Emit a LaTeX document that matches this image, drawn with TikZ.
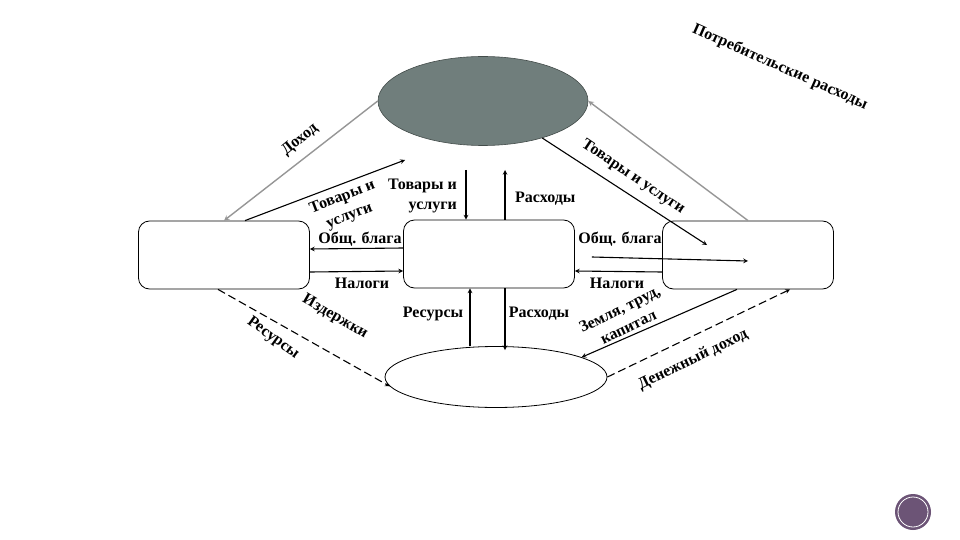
\documentclass[tikz,border=0pt]{standalone}
\usepackage{fontspec}
\setmainfont{Liberation Serif}[BoldFont={Liberation Serif Bold}]
\usetikzlibrary{shapes.geometric,positioning,calc}
\definecolor{ovalgray}{RGB}{112,126,124}
\definecolor{grayline}{RGB}{150,150,150}
\definecolor{badge}{RGB}{108,84,118}
\tikzset{
  sector/.style={draw,line width=0.8pt,rounded corners=11pt,minimum width=171pt,minimum height=68pt},
  lbl/.style={font=\rmfamily\bfseries\fontsize{16}{20}\selectfont,inner sep=1pt},
  flow/.style={->,>=stealth,line width=1.1pt},
  gflow/.style={->,>=stealth,grayline,line width=1.4pt},
  dflow/.style={->,>=stealth,line width=1.1pt,dash pattern=on 8pt off 4pt},
}
\begin{document}
\begin{tikzpicture}[x=1pt,y=-1pt]
  \useasboundingbox (0,0) rectangle (960,540);
  % сектора
  \node[ellipse,draw=ovalgray!60!black,line width=0.6pt,fill=ovalgray,minimum width=210pt,minimum height=89pt] (toval) at (483,101) {};
  \node[ellipse,draw,line width=0.8pt,minimum width=222pt,minimum height=61pt] (boval) at (496,377) {};
  \node[sector] (lsec) at (224,255) {};
  \node[sector] (gov) at (489,254) {};
  \node[sector] (rsec) at (748,255) {};
  \coordinate (gsup) at (405,160);
  \coordinate (gsin) at (466,170);
  \coordinate (spend) at (505,170);

  % серые стрелки
  \draw[gflow] (toval.west) -- (lsec.north);
  \draw[gflow] (rsec.north) -- (toval.east);
  % верх
  \draw[flow] ([xshift=21pt]lsec.north) -- (gsup);
  \draw[flow] (toval.-32) -- ([xshift=-41pt,yshift=10pt]rsec.center);
  \draw[flow] (gsin) -- (gsin |- gov.north);
  \draw[flow] (spend |- gov.north) -- (spend);
  % середина
  \draw[flow] ([yshift=6pt]gov.west) -- ([yshift=6pt]lsec.east);
  \draw[flow] ([yshift=-17pt]lsec.east) -- ([yshift=-17pt]gov.west);
  \draw[flow] ([xshift=17pt,yshift=-3pt]gov.east) -- ([yshift=-6pt]rsec.center);
  \draw[flow] ([yshift=-17pt]rsec.west) -- ([yshift=-17pt]gov.east);
  % низ
  \draw[flow] ($(boval.north)+(-26,0)$) -- ($(gov.south)+(-19,0)$);
  \draw[flow] ($(gov.south)+(16,0)$) -- ($(boval.north)+(9,4)$);
  \draw[flow] ($(rsec.south)+(-11,0)$) -- (boval.13);
  \draw[dflow] (boval.east) -- ($(rsec.south)+(42,0)$);
  \draw[dflow] ($(lsec.south)+(-6,0)$) -- (boval.185);

  % подписи
  \node[lbl,rotate=39] (tDohod) at (300,140) {Доход};
  \node[lbl,rotate=-24] (tPotr) at (780,67) {Потребительские расходы};
  \node[lbl,rotate=21,align=center] (tTov1) at (346,207) {Товары и\\услуги};
  \node[lbl,align=right,anchor=east] (tTov2) at (458,196) {Товары и\\услуги};
  \node[lbl,anchor=west] (tRash1) at (514,199) {Расходы};
  \node[lbl,rotate=-34] (tTov3) at (633,177) {Товары и услуги};
  \node[lbl] (tObsh1) at (360,239) {Общ. блага};
  \node[lbl] (tNal1) at (362,283) {Налоги};
  \node[lbl] (tObsh2) at (620,239) {Общ. блага};
  \node[lbl] (tNal2) at (617,283) {Налоги};
  \node[lbl] (tRes1) at (433,314) {Ресурсы};
  \node[lbl] (tRash2) at (539,314) {Расходы};
  \node[lbl,rotate=26,align=center] (tZeml) at (624,318) {Земля, труд,\\капитал};
  \node[lbl,rotate=26] (tDen) at (693,360) {Денежный доход};
  \node[lbl,rotate=-36] (tRes2) at (273,338) {Ресурсы};
  \node[lbl,rotate=-30] (tIzd) at (335,317) {Издержки};

  % значок
  \fill[badge] (913,512) circle (18pt);
  \draw[white,line width=0.8pt] (913,512) circle (15pt);
\end{tikzpicture}
\end{document}
